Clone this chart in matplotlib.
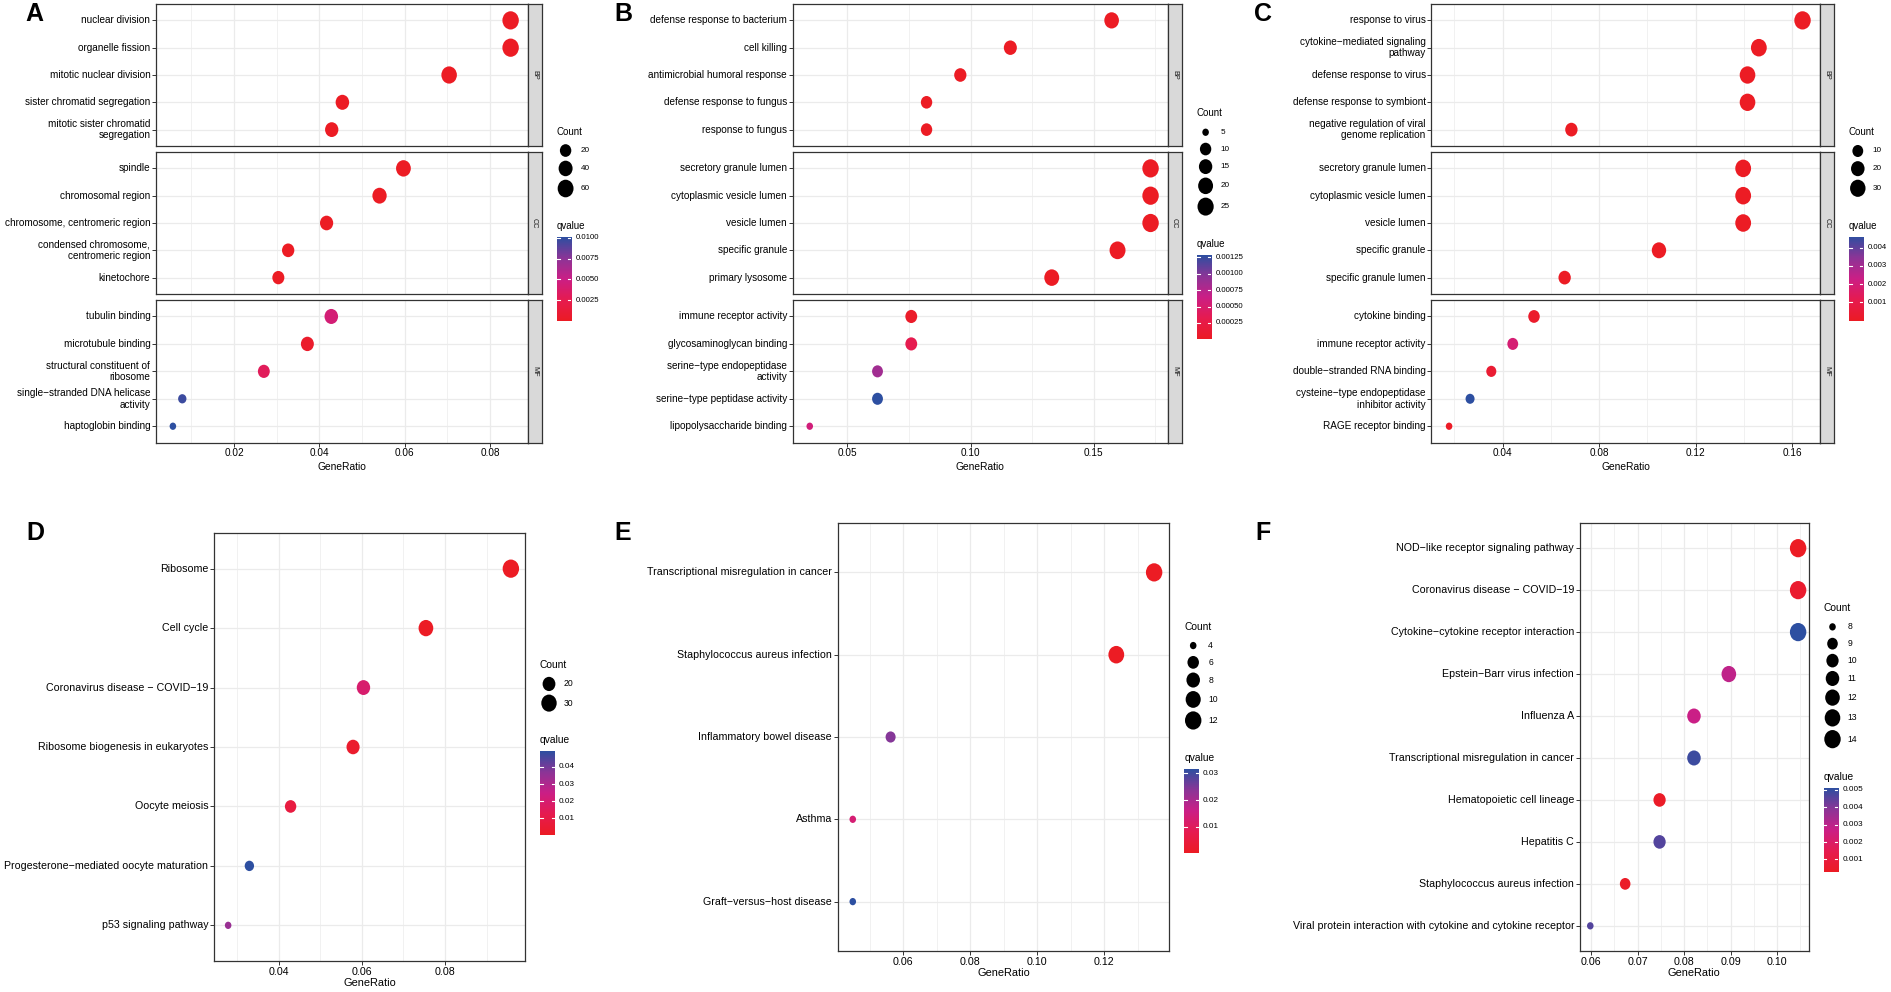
import textwrap
import numpy as np
import matplotlib
matplotlib.use("Agg")
import matplotlib.pyplot as plt
from matplotlib.path import Path
from matplotlib.transforms import Affine2D
from matplotlib.colors import LinearSegmentedColormap
from matplotlib.ticker import MultipleLocator, FormatStrFormatter

W, H, DPI = 1891, 992, 100
plt.rcParams["font.family"] = ["Liberation Sans", "DejaVu Sans"]

# ---------------- data ----------------
# A  GO, all genes
a_bp_terms = ["nuclear division", "organelle fission", "mitotic nuclear division",
              "sister chromatid segregation", "mitotic sister chromatid segregation"]
a_bp_ratio = [0.0848, 0.0848, 0.0704, 0.0454, 0.0429]
a_bp_count = [67, 67, 56, 36, 34]
a_bp_q = [1e-9, 1e-9, 1e-9, 2e-8, 2e-8]
a_cc_terms = ["spindle", "chromosomal region", "chromosome, centromeric region",
              "condensed chromosome, centromeric region", "kinetochore"]
a_cc_ratio = [0.0597, 0.0541, 0.0417, 0.0327, 0.0304]
a_cc_count = [48, 43, 33, 26, 24]
a_cc_q = [1e-8, 1e-8, 2e-8, 5e-8, 5e-8]
a_mf_terms = ["tubulin binding", "microtubule binding", "structural constituent of ribosome",
              "single-stranded DNA helicase activity", "haptoglobin binding"]
a_mf_ratio = [0.0428, 0.0372, 0.0270, 0.0079, 0.0057]
a_mf_count = [36, 31, 23, 7, 5]
a_mf_q = [0.0043, 0.0005, 0.0030, 0.0097, 0.0101]

# B
b_bp_terms = ["defense response to bacterium", "cell killing", "antimicrobial humoral response",
              "defense response to fungus", "response to fungus"]
b_bp_ratio = [0.1572, 0.1161, 0.0958, 0.0821, 0.0821]
b_bp_count = [19, 14, 12, 10, 10]
b_bp_q = [1e-9, 1e-8, 1e-8, 1e-8, 1e-8]
b_cc_terms = ["secretory granule lumen", "cytoplasmic vesicle lumen", "vesicle lumen",
              "specific granule", "primary lysosome"]
b_cc_ratio = [0.1730, 0.1730, 0.1730, 0.1596, 0.1329]
b_cc_count = [26, 26, 26, 24, 20]
b_cc_q = [1e-10, 1e-10, 1e-10, 1e-10, 1e-9]
b_mf_terms = ["immune receptor activity", "glycosaminoglycan binding",
              "serine-type endopeptidase activity", "serine-type peptidase activity",
              "lipopolysaccharide binding"]
b_mf_ratio = [0.0759, 0.0759, 0.0622, 0.0622, 0.0347]
b_mf_count = [11, 11, 9, 9, 5]
b_mf_q = [0.00005, 0.00032, 0.00085, 0.00128, 0.00057]

# C
c_bp_terms = ["response to virus", "cytokine-mediated signaling pathway", "defense response to virus",
              "defense response to symbiont", "negative regulation of viral genome replication"]
c_bp_ratio = [0.1643, 0.1462, 0.1415, 0.1415, 0.0685]
c_bp_count = [36, 32, 31, 31, 15]
c_bp_q = [1e-10, 1e-9, 1e-10, 1e-10, 1e-8]
c_cc_terms = ["secretory granule lumen", "cytoplasmic vesicle lumen", "vesicle lumen",
              "specific granule", "specific granule lumen"]
c_cc_ratio = [0.1397, 0.1397, 0.1397, 0.1048, 0.0657]
c_cc_count = [32, 32, 32, 24, 15]
c_cc_q = [1e-9, 1e-9, 1e-9, 1e-8, 1e-7]
c_mf_terms = ["cytokine binding", "immune receptor activity", "double-stranded RNA binding",
              "cysteine-type endopeptidase inhibitor activity", "RAGE receptor binding"]
c_mf_ratio = [0.0530, 0.0442, 0.0353, 0.0265, 0.0178]
c_mf_count = [12, 10, 8, 6, 4]
c_mf_q = [0.0002, 0.0019, 0.0004, 0.0046, 0.0001]

# D  KEGG
d_terms = ["Ribosome", "Cell cycle", "Coronavirus disease - COVID-19",
           "Ribosome biogenesis in eukaryotes", "Oocyte meiosis",
           "Progesterone-mediated oocyte maturation", "p53 signaling pathway"]
d_ratio = [0.0958, 0.0754, 0.0604, 0.0579, 0.0429, 0.0330, 0.0279]
d_count = [35, 27, 22, 21, 16, 12, 10]
d_q = [0.0001, 0.0005, 0.0190, 0.0030, 0.0080, 0.0490, 0.0340]

# E
e_terms = ["Transcriptional misregulation in cancer", "Staphylococcus aureus infection",
           "Inflammatory bowel disease", "Asthma", "Graft-versus-host disease"]
e_ratio = [0.1349, 0.1236, 0.0562, 0.0449, 0.0449]
e_count = [12, 11, 5, 4, 4]
e_q = [0.0002, 0.0003, 0.0240, 0.0130, 0.0314]

# F
f_terms = ["NOD-like receptor signaling pathway", "Coronavirus disease - COVID-19",
           "Cytokine-cytokine receptor interaction", "Epstein-Barr virus infection",
           "Influenza A", "Transcriptional misregulation in cancer", "Hematopoietic cell lineage",
           "Hepatitis C", "Staphylococcus aureus infection",
           "Viral protein interaction with cytokine and cytokine receptor"]
f_ratio = [0.1045, 0.1045, 0.1045, 0.0896, 0.0821, 0.0821, 0.0747, 0.0747, 0.0673, 0.0598]
f_count = [14, 14, 14, 12, 11, 11, 10, 10, 9, 8]
f_q = [0.00028, 0.0006, 0.0051, 0.0029, 0.0027, 0.0049, 0.0004, 0.0046, 0.0004, 0.0046]

# legend breaks / colorbar ticks
a_breaks, b_breaks, c_breaks = [20, 40, 60], [5, 10, 15, 20, 25], [10, 20, 30]
d_breaks, e_breaks, f_breaks = [20, 30], [4, 6, 8, 10, 12], [8, 9, 10, 11, 12, 13, 14]
a_qticks = [0.0025, 0.0050, 0.0075, 0.0100]
b_qticks = [0.00025, 0.00050, 0.00075, 0.00100, 0.00125]
c_qticks = [0.001, 0.002, 0.003, 0.004]
d_qticks = [0.01, 0.02, 0.03, 0.04]
e_qticks = [0.01, 0.02, 0.03]
f_qticks = [0.001, 0.002, 0.003, 0.004, 0.005]

# ---------------- style ----------------
QCMAP = LinearSegmentedColormap.from_list(
    "qv", ["#EC1C24", "#E61B50", "#CB1F86", "#8B3597", "#2D4FA1"])
K_DOT = 0.77
ELL = Path.unit_circle().transformed(Affine2D().scale(0.9, 1.0))
GRID = "#EBEBEB"
EDGE = "#333333"


def px_rect(x0, y0, x1, y1):
    return [x0 / W, 1 - y1 / H, (x1 - x0) / W, (y1 - y0) / H]


def dot_h(c, cmin, cmax):
    size = 3 + 5 * np.sqrt((np.asarray(c, float) - cmin) / (cmax - cmin))
    return K_DOT * (size * 2.845 + 0.945)


def dot_s(c, cmin, cmax):
    return (dot_h(c, cmin, cmax) * 72 / DPI) ** 2


def nice(t):
    return t.replace("-", "\u2212")


def style_ax(ax, xlim, n, step, fs, show_x):
    ax.set_xlim(xlim)
    ax.set_ylim(-0.6, n - 0.4)
    ax.xaxis.set_major_locator(MultipleLocator(step))
    ax.xaxis.set_minor_locator(MultipleLocator(step / 2))
    ax.xaxis.set_major_formatter(FormatStrFormatter("%.2f"))
    ax.grid(which="major", color=GRID, lw=0.9)
    ax.grid(which="minor", axis="x", color=GRID, lw=0.5)
    ax.set_axisbelow(True)
    for sp in ax.spines.values():
        sp.set_color(EDGE)
        sp.set_linewidth(0.9)
    ax.tick_params(which="major", length=2.6, width=0.7, color=EDGE,
                   labelsize=fs, pad=1.5, labelcolor="black")
    ax.tick_params(which="minor", length=0)
    if not show_x:
        ax.tick_params(axis="x", which="major", length=0, labelbottom=False)


def dots(ax, ratio, count, q, cmin, cmax, qlo, qhi):
    n = len(ratio)
    ys = np.arange(n)[::-1]
    cols = QCMAP((np.asarray(q) - qlo) / (qhi - qlo))
    ax.scatter(ratio, ys, s=dot_s(count, cmin, cmax), c=cols, marker=ELL,
               edgecolors="none", zorder=3)


def legend(fig, ov, left, cy, breaks, cmin, cmax, qlo, qhi, qticks, qfmt, fs_t, fs_l):
    keys = [max(13.3, float(dot_h(b, cmin, cmax))) + 3.5 for b in breaks]
    total = 6 + 10.5 + sum(keys) + 27 + 11 + 84
    ty = cy - total / 2 + 6
    ov.text(left, ty, "Count", fontsize=fs_t, ha="left", va="center")
    y = ty + 10.5
    for b, kh in zip(breaks, keys):
        yc = y + kh / 2
        ov.scatter([left + 9], [yc], s=dot_s(b, cmin, cmax), marker=ELL,
                   color="black", edgecolors="none")
        ov.text(left + 24, yc, str(b), fontsize=fs_l, ha="left", va="center")
        y += kh
    qy = y + 27
    ov.text(left, qy, "qvalue", fontsize=fs_t, ha="left", va="center")
    cb_top = qy + 11
    cax = fig.add_axes(px_rect(left, cb_top, left + 14.5, cb_top + 84))
    grad = np.linspace(0, 1, 256)[:, None]
    cax.imshow(grad, aspect="auto", cmap=QCMAP, origin="lower",
               extent=[0, 1, qlo, qhi])
    cax.set_xlim(0, 1)
    cax.set_ylim(qlo, qhi)
    cax.set_xticks([])
    cax.set_yticks([])
    for sp in cax.spines.values():
        sp.set_visible(False)
    for t in qticks:
        cax.plot([0, 0.2], [t, t], color="white", lw=0.8)
        cax.plot([0.8, 1], [t, t], color="white", lw=0.8)
        cax.text(1.3, t, qfmt % t, transform=cax.get_yaxis_transform(),
                 fontsize=fs_l - 0.3, ha="left", va="center")


def xrange_of(r):
    lo, hi = min(r), max(r)
    pad = (hi - lo) * 0.05
    return lo - pad, hi + pad


fig = plt.figure(figsize=(W / DPI, H / DPI), dpi=DPI)
ov = fig.add_axes([0, 0, 1, 1], zorder=5)
ov.set_xlim(0, W)
ov.set_ylim(H, 0)
ov.axis("off")
ov.patch.set_alpha(0)

TOP_ROWS = [(4, 146), (152, 294), (300, 442.7)]


def go_panel(letter, lx, x0, x1, xs, facets, step, breaks, qticks, qfmt):
    ratios = [v for f in facets for v in f[2]]
    counts = [v for f in facets for v in f[3]]
    qs = [v for f in facets for v in f[4]]
    cmin, cmax = min(counts), max(counts)
    qlo, qhi = min(qs), max(qs)
    xlim = xrange_of(ratios)
    for (name, terms, ratio, count, q), (y0, y1) in zip(facets, TOP_ROWS):
        ax = fig.add_axes(px_rect(x0, y0, x1, y1))
        last = name == "MF"
        style_ax(ax, xlim, len(terms), step, 7.2, last)
        ax.set_yticks(np.arange(len(terms))[::-1])
        ax.set_yticklabels([nice(textwrap.fill(t, 30)) for t in terms], va="center")
        dots(ax, ratio, count, q, cmin, cmax, qlo, qhi)
        if last:
            ax.set_xlabel("GeneRatio", fontsize=7.4, labelpad=2.5)
        sax = fig.add_axes(px_rect(x1, y0, xs, y1))
        sax.set_facecolor("#D9D9D9")
        sax.set_xticks([])
        sax.set_yticks([])
        for sp in sax.spines.values():
            sp.set_color(EDGE)
            sp.set_linewidth(0.9)
        sax.text(0.5, 0.5, name, rotation=-90, fontsize=5.2, color="#1A1A1A",
                 ha="center", va="center", transform=sax.transAxes)
    ov.text(lx, 2, letter, fontsize=18, fontweight="bold", ha="left", va="top")
    legend(fig, ov, xs + 15, (TOP_ROWS[0][0] + TOP_ROWS[-1][1]) / 2, breaks,
           cmin, cmax, qlo, qhi, qticks, qfmt, 7.0, 5.9)


def kegg_panel(letter, lx, box, terms, ratio, count, q, step, breaks, qticks, qfmt):
    x0, y0, x1, y1 = box
    cmin, cmax = min(count), max(count)
    qlo, qhi = min(q), max(q)
    ax = fig.add_axes(px_rect(x0, y0, x1, y1))
    style_ax(ax, xrange_of(ratio), len(terms), step, 7.7, True)
    ax.set_yticks(np.arange(len(terms))[::-1])
    ax.set_yticklabels([nice(t) for t in terms], va="center")
    dots(ax, ratio, count, q, cmin, cmax, qlo, qhi)
    ax.set_xlabel("GeneRatio", fontsize=7.9, labelpad=1)
    ov.text(lx, 521, letter, fontsize=18, fontweight="bold", ha="left", va="top")
    legend(fig, ov, x1 + 15, (y0 + y1) / 2, breaks, cmin, cmax, qlo, qhi,
           qticks, qfmt, 7.4, 6.2)


go_panel("A", 25, 156, 527.5, 541.6,
         [("BP", a_bp_terms, a_bp_ratio, a_bp_count, a_bp_q),
          ("CC", a_cc_terms, a_cc_ratio, a_cc_count, a_cc_q),
          ("MF", a_mf_terms, a_mf_ratio, a_mf_count, a_mf_q)],
         0.02, a_breaks, a_qticks, "%.4f")
go_panel("B", 614, 792.7, 1167.6, 1181.6,
         [("BP", b_bp_terms, b_bp_ratio, b_bp_count, b_bp_q),
          ("CC", b_cc_terms, b_cc_ratio, b_cc_count, b_cc_q),
          ("MF", b_mf_terms, b_mf_ratio, b_mf_count, b_mf_q)],
         0.05, b_breaks, b_qticks, "%.5f")
go_panel("C", 1254, 1431.4, 1820.2, 1833.8,
         [("BP", c_bp_terms, c_bp_ratio, c_bp_count, c_bp_q),
          ("CC", c_cc_terms, c_cc_ratio, c_cc_count, c_cc_q),
          ("MF", c_mf_terms, c_mf_ratio, c_mf_count, c_mf_q)],
         0.04, c_breaks, c_qticks, "%.3f")

kegg_panel("D", 26, (214, 533, 525, 961), d_terms, d_ratio, d_count, d_q,
           0.02, d_breaks, d_qticks, "%.2f")
kegg_panel("E", 614, (837.7, 523, 1169.2, 951), e_terms, e_ratio, e_count, e_q,
           0.02, e_breaks, e_qticks, "%.2f")
kegg_panel("F", 1255, (1579.9, 523, 1808.5, 951), f_terms, f_ratio, f_count, f_q,
           0.01, f_breaks, f_qticks, "%.3f")

fig.savefig("out.png", dpi=DPI)
